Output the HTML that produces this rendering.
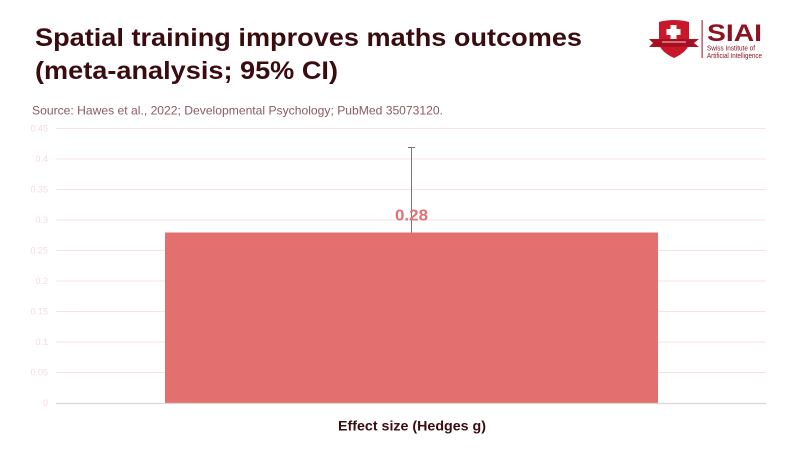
<!DOCTYPE html>
<html><head><meta charset="utf-8"><style>
html,body{margin:0;padding:0;background:#fff;}
svg{display:block;}
</style></head><body>
<svg width="800" height="450" viewBox="0 0 800 450" xmlns="http://www.w3.org/2000/svg" font-family="Liberation Sans, sans-serif">
<rect width="800" height="450" fill="#fff"/>
<!-- Title -->
<text x="35" y="46" font-size="25" font-weight="bold" fill="#3a0b0f" textLength="547" lengthAdjust="spacingAndGlyphs">Spatial training improves maths outcomes</text>
<text x="35" y="79" font-size="25" font-weight="bold" fill="#3a0b0f" textLength="303" lengthAdjust="spacingAndGlyphs">(meta-analysis; 95% CI)</text>
<text x="32" y="114.5" font-size="12" fill="#8a5a5f" textLength="411" lengthAdjust="spacingAndGlyphs">Source: Hawes et al., 2022; Developmental Psychology; PubMed 35073120.</text>
<!-- Logo -->
<g>
<path d="M659,22 Q674,18 689,22 L689,44 Q687,52 674,58 Q661,52 659,44 Z" fill="#c8182c"/>
<path d="M649,39 L699,39 L694,43 L699,47 L649,47 L653,43 Z" fill="#b01024"/>
<rect x="654" y="39.5" width="40" height="6.5" fill="#a80e22"/>
<rect x="662" y="41.5" width="24" height="1" fill="#f3d0d4"/>
<rect x="670.5" y="25" width="6" height="14" fill="#fff"/>
<rect x="666.5" y="29" width="14" height="6" fill="#fff"/>
<rect x="701.5" y="20" width="1.2" height="38" fill="#b03040"/>
<text x="707" y="41" font-size="24" font-weight="bold" fill="#8b1420" textLength="55" lengthAdjust="spacingAndGlyphs">SIAI</text>
<text x="707" y="50.5" font-size="7.5" fill="#8b1420" textLength="48" lengthAdjust="spacingAndGlyphs">Swiss Institute of</text>
<text x="707" y="58" font-size="7.5" fill="#8b1420" textLength="55" lengthAdjust="spacingAndGlyphs">Artificial Intelligence</text>
</g>
<!-- Gridlines -->
<g stroke="#f8e2e4" stroke-width="1">
<line x1="56" x2="766" y1="128.5" y2="128.5"/>
<line x1="56" x2="766" y1="159" y2="159"/>
<line x1="56" x2="766" y1="189.5" y2="189.5"/>
<line x1="56" x2="766" y1="220" y2="220"/>
<line x1="56" x2="766" y1="250.5" y2="250.5"/>
<line x1="56" x2="766" y1="281" y2="281"/>
<line x1="56" x2="766" y1="311.5" y2="311.5"/>
<line x1="56" x2="766" y1="342" y2="342"/>
<line x1="56" x2="766" y1="372.5" y2="372.5"/>
</g>
<!-- Y tick labels -->
<g font-size="9" fill="#f6dadd" text-anchor="end">
<text x="48" y="131.5">0.45</text>
<text x="48" y="162">0.4</text>
<text x="48" y="192.5">0.35</text>
<text x="48" y="223">0.3</text>
<text x="48" y="253.5">0.25</text>
<text x="48" y="284">0.2</text>
<text x="48" y="314.5">0.15</text>
<text x="48" y="345">0.1</text>
<text x="48" y="375.5">0.05</text>
<text x="48" y="406">0</text>
</g>
<!-- Bar -->
<rect x="165" y="232.5" width="493" height="171" fill="#e46f6f"/>
<line x1="56" x2="766" y1="403.5" y2="403.5" stroke="#d9d9d9" stroke-width="1.2"/>
<!-- Error bar -->
<line x1="411.5" x2="411.5" y1="147" y2="232.5" stroke="#777" stroke-width="1"/>
<line x1="408" x2="415" y1="147.5" y2="147.5" stroke="#777" stroke-width="1"/>
<!-- Value label -->
<text x="411.5" y="220.5" font-size="15.5" font-weight="bold" fill="#e46f6f" text-anchor="middle" textLength="33" lengthAdjust="spacingAndGlyphs">0.28</text>
<!-- X label -->
<text x="338" y="430.5" font-size="14" font-weight="bold" fill="#3a0b0f" textLength="148" lengthAdjust="spacingAndGlyphs">Effect size (Hedges g)</text>
</svg>
</body></html>
